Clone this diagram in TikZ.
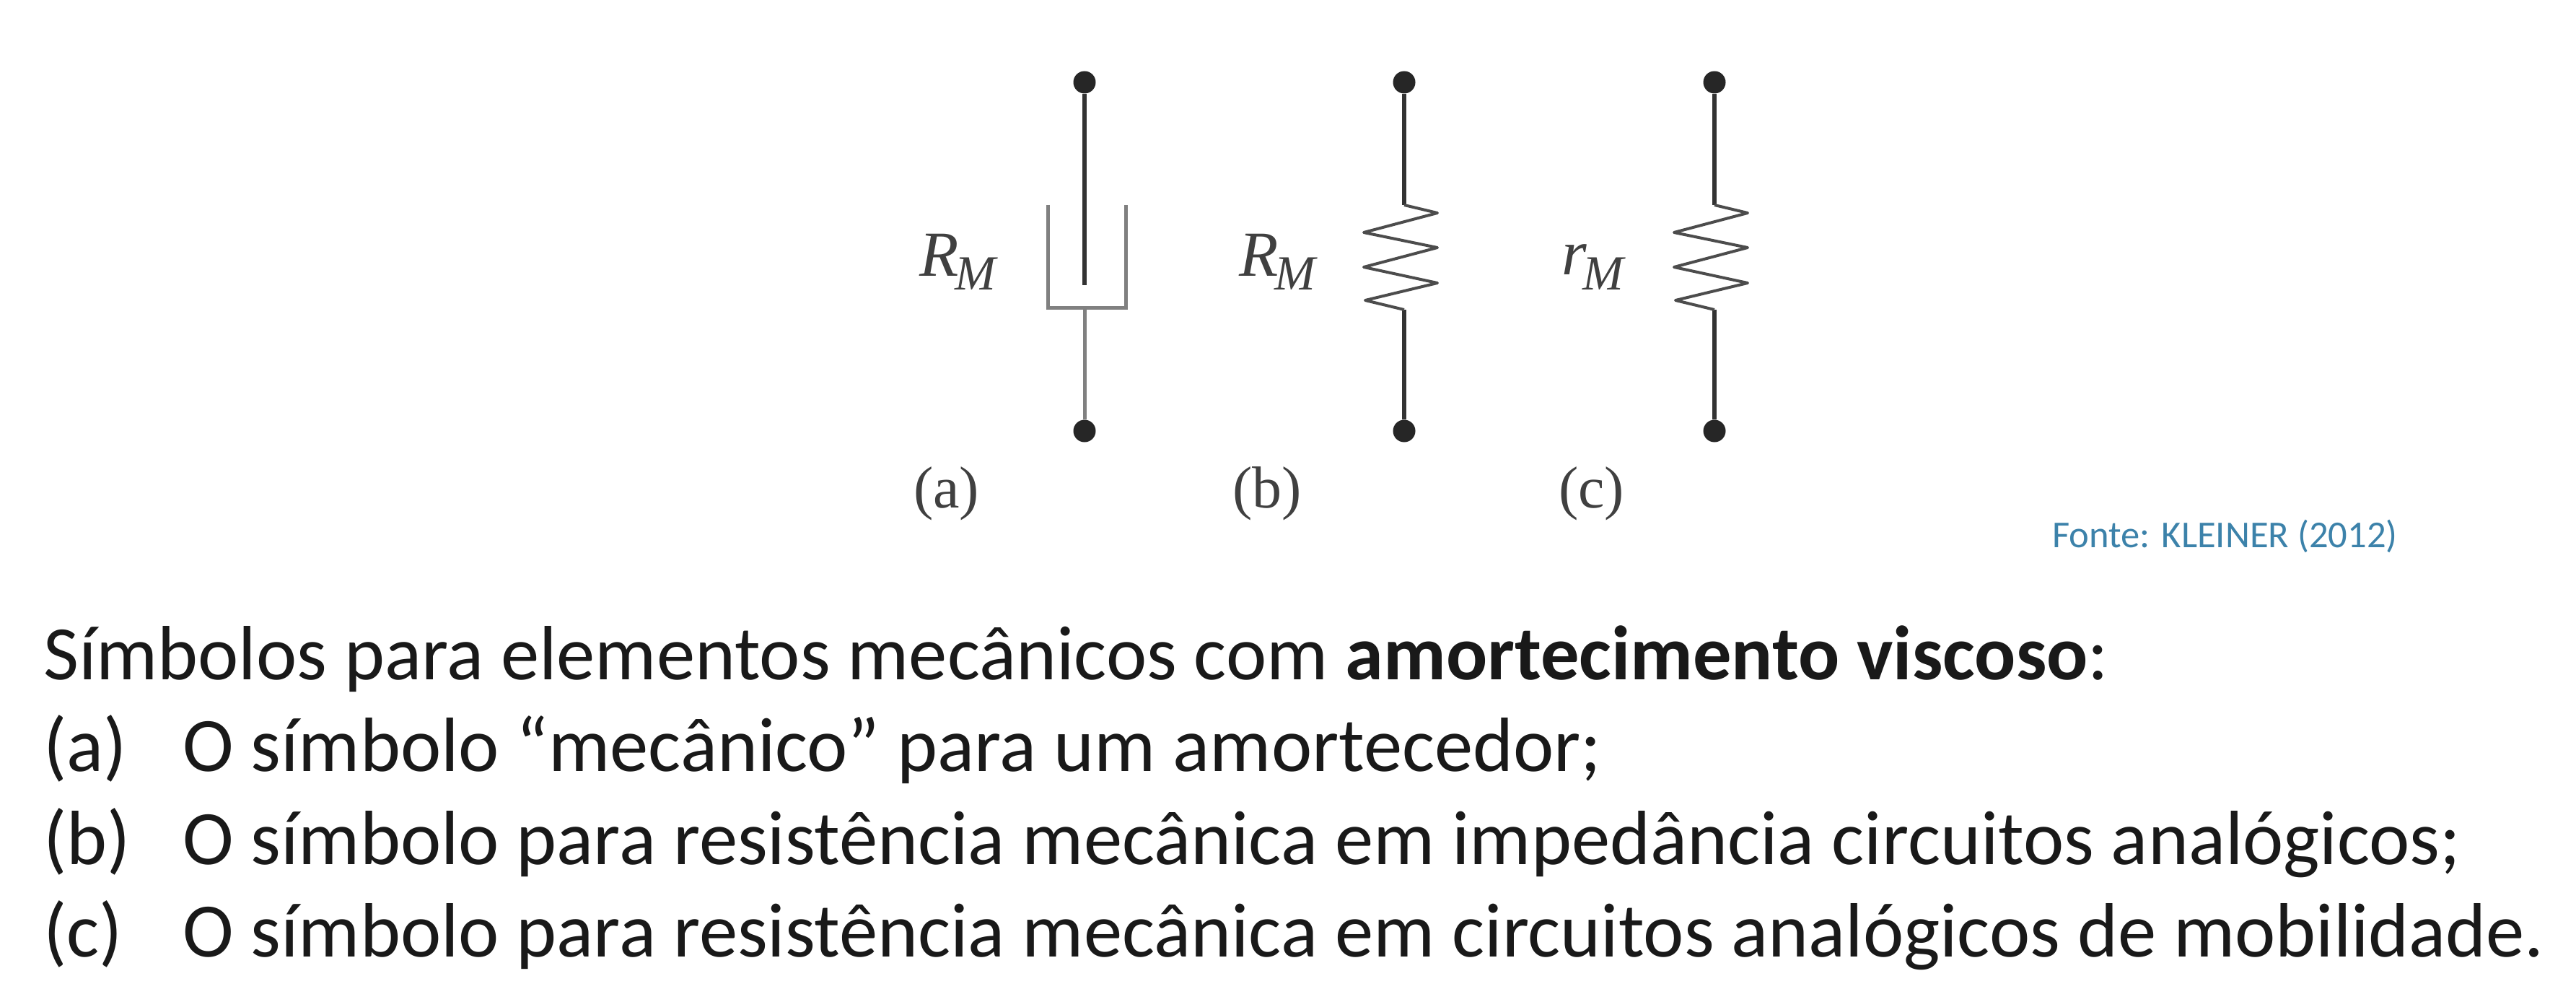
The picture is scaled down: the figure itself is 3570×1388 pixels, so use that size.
\documentclass[tikz,border=0pt]{standalone}
\usepackage{fontspec}
\setmainfont{Carlito}
\newfontfamily\capfont{Liberation Serif}
\definecolor{fontecol}{RGB}{60,130,170}
\begin{document}
\begin{tikzpicture}[x=1pt,y=-1pt,
  term/.style={circle,fill=black!85,inner sep=0pt,minimum size=31pt},
  wire/.style={draw=black!80,line width=6pt},
  lightwire/.style={draw=black!50,line width=5pt},
  zig/.style={draw=black!70,line width=4pt,line join=round},
  body/.style={font=\fontsize{106.6}{107}\selectfont,anchor=base west,inner sep=0pt,text=black!90},
  sym/.style={font=\capfont\itshape\fontsize{89}{89}\selectfont,anchor=base west,inner sep=0pt,text=black!75},
  subsym/.style={font=\capfont\itshape\fontsize{68}{68}\selectfont,anchor=base west,inner sep=0pt,text=black!75},
  captxt/.style={font=\capfont\fontsize{82}{82}\selectfont,anchor=base west,inner sep=0pt,text=black!75},
  src/.style={font=\fontsize{52.6}{52.6}\selectfont,anchor=base west,inner sep=0pt,text=fontecol}]
\useasboundingbox (0,0) rectangle (3570,1388);
\fill[white] (0,0) rectangle (3570,1388);
% (a)
\node[term] (at) at (1503,114) {};
\node[term] (ab) at (1503,597) {};
\coordinate (arod) at (1503,395);
\coordinate (abase) at (1503,426);
\coordinate (acl) at (1452,284);
\coordinate (acr) at (1560,284);
\draw[wire] (at) -- (arod);
\draw[lightwire] (abase) -- (ab);
\draw[lightwire] (acl) -- (1452,426) -- (1560,426) -- (acr);
\node[sym] (ar) at (1274,382) {R};
\node[subsym] (arm) at (1323,401) {M};
\node[captxt] (ac) at (1266,703) {(a)};
% (b)
\node[term] (bt) at (1946,114) {};
\node[term] (bb) at (1946,597) {};
\coordinate (bz1) at (1946,284);
\coordinate (bz2) at (1946,429);
\draw[wire] (bt) -- (bz1);
\draw[wire] (bz2) -- (bb);
\draw[zig] (bz1) -- ++(46,11) -- ++(-102,27) -- ++(102,21) -- ++(-102,27) -- ++(102,22) -- ++(-100,24) -- (bz2);
\node[sym] (br) at (1717,382) {R};
\node[subsym] (brm) at (1766,401) {M};
\node[captxt] (bc) at (1708,703) {(b)};
% (c)
\node[term] (ct) at (2376,114) {};
\node[term] (cb) at (2376,597) {};
\coordinate (cz1) at (2376,284);
\coordinate (cz2) at (2376,429);
\draw[wire] (ct) -- (cz1);
\draw[wire] (cz2) -- (cb);
\draw[zig] (cz1) -- ++(46,11) -- ++(-102,27) -- ++(102,21) -- ++(-102,27) -- ++(102,22) -- ++(-100,24) -- (cz2);
\node[sym] (cr) at (2164,380) {r};
\node[subsym] (crm) at (2193,401) {M};
\node[captxt] (cc) at (2160,703) {(c)};
% source
\node[src] (fonte) at (2844,758) {Fonte: KLEINER (2012)};
% text
\node[body] (t0) at (60,941) {Símbolos para elementos mecânicos com \textbf{amortecimento viscoso}:};
\node[body] (t1a) at (60,1068) {(a)};
\node[body] (t1) at (253,1068) {O símbolo “mecânico” para um amortecedor;};
\node[body] (t2a) at (60,1197) {(b)};
\node[body] (t2) at (253,1197) {O símbolo para resistência mecânica em impedância circuitos analógicos;};
\node[body] (t3a) at (60,1325) {(c)};
\node[body] (t3) at (253,1325) {O símbolo para resistência mecânica em circuitos analógicos de mobilidade.};
\end{tikzpicture}
\end{document}
